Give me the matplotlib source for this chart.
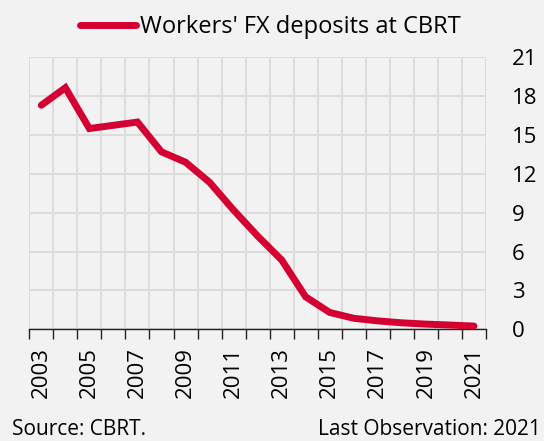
import matplotlib.pyplot as plt
import numpy as np

plt.rcParams['font.family'] = ['Open Sans', 'DejaVu Sans']

years = ['2003', '2004', '2005', '2006', '2007', '2008', '2009', '2010', '2011', '2012',
         '2013', '2014', '2015', '2016', '2017', '2018', '2019', '2020', '2021']
deposits = [17.3, 18.65, 15.5, 15.75, 16.0, 13.7, 12.9, 11.35, 9.2, 7.2,
            5.35, 2.5, 1.3, 0.85, 0.65, 0.5, 0.4, 0.33, 0.25]

bg = '#F2F2F2'
red = '#D50032'

fig = plt.figure(figsize=(5.44, 4.41), dpi=100, facecolor=bg)
ax = fig.add_axes([29.3 / 544, 1 - 329.3 / 441, 456.7 / 544, 272 / 441], facecolor=bg)

x = np.arange(len(years))
ax.plot(x, deposits, color=red, lw=5, solid_capstyle='round', solid_joinstyle='miter',
        label="Workers' FX deposits at CBRT", zorder=3)

ax.set_xlim(-0.5, len(years) - 0.5)
ax.set_ylim(0, 21)

ax.set_xticks(x[::2])
ax.set_xticklabels(years[::2], rotation=90, fontsize=16)
ax.set_xticks(np.arange(-0.5, len(years)), minor=True)
ax.tick_params(axis='x', which='major', length=0, pad=13)
ax.tick_params(axis='x', which='minor', length=7.5, width=1, color='#222222', direction='out')

ax.set_yticks(np.arange(0, 22, 3))
ax.yaxis.tick_right()
ax.tick_params(axis='y', length=0, pad=18.5, labelsize=16)
for lab in ax.get_yticklabels():
    lab.set_horizontalalignment('left')

ax.grid(axis='x', which='minor', color='#DCDCDC', lw=1.5)
ax.grid(axis='y', which='major', color='#DCDCDC', lw=1.5)
ax.grid(axis='x', which='major', visible=False)

for s in ['top', 'left', 'right']:
    ax.spines[s].set_visible(False)
ax.spines['bottom'].set_color('#222222')
ax.spines['bottom'].set_linewidth(1)

fig.legend(loc='center', bbox_to_anchor=(270 / 544, 1 - 27 / 441), frameon=False, fontsize=17,
           handlelength=2.4, handletextpad=0.15, borderaxespad=0, borderpad=0)

fig.text(12 / 544, 1 / 441, 'Source: CBRT.', fontsize=15, ha='left', va='bottom')
fig.text(541 / 544, 1 / 441, 'Last Observation: 2021', fontsize=15, ha='right', va='bottom')

fig.savefig('out.png', dpi=100, facecolor=bg)
